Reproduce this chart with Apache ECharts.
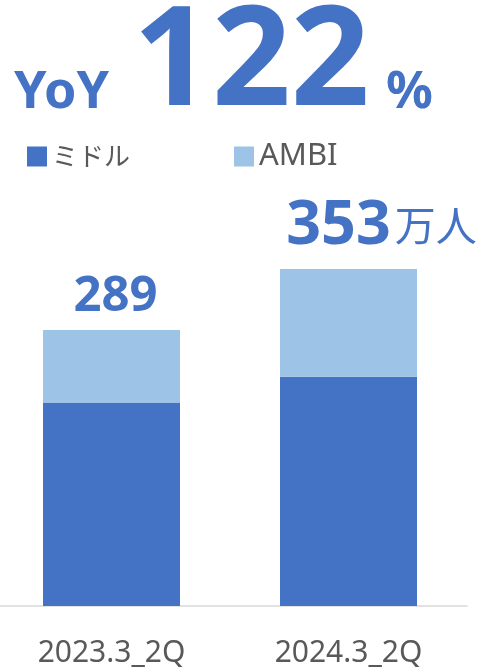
<!DOCTYPE html>
<html>
<head>
<meta charset="utf-8">
<script src="https://cdn.jsdelivr.net/npm/echarts@6/dist/echarts.min.js"></script>
<style>
  html, body { margin: 0; padding: 0; background: #fff; overflow: hidden; }
  /* 左端の軸線をはみ出させるため少し左へずらす */
  #main { position: relative; left: -7px; width: 489px; height: 669px; }
</style>
</head>
<body>
<div id="main"></div>
<script>
// データ
var categories = ['2023.3_2Q', '2024.3_2Q'];
var middleValues = [213, 240];
var ambiValues = [76, 113];
var totals = [289, 353];
var unitText = '万人';

var blue = '#4472C4';
var lightBlue = '#9DC3E6';
var gray = '#595959';
var latin = '"Noto Sans", "Noto Sans CJK JP", sans-serif';
var shift = 7;

// 前年比
var yoy = Math.round(totals[1] / totals[0] * 100);

// 合計ラベル
var ambiData = ambiValues.map(function (v, i) {
    var last = i === ambiValues.length - 1;
    return {
        value: v,
        label: {
            show: true,
            position: 'top',
            distance: last ? 12 : 8,
            offset: last ? [33, 0] : [4, 0],
            formatter: last ? '{n|' + totals[i] + '}{u|' + unitText + '}' : '{n|' + totals[i] + '}',
            rich: {
                n: { fontFamily: latin, fontWeight: 'bold', fontSize: last ? 61 : 49, color: blue },
                u: { fontFamily: '"Noto Sans CJK JP", sans-serif', fontSize: 41, color: blue, padding: [0, 0, 2, 4] }
            }
        }
    };
});

var myChart = echarts.init(document.getElementById('main'));

myChart.setOption({
    animation: false,
    backgroundColor: '#fff',
    grid: { left: 0, right: 15, top: 224, bottom: 63 },
    graphic: [
        { type: 'text', left: 14 + shift, top: 67, style: { text: 'YoY', font: 'bold 52px ' + latin, fill: blue } },
        { type: 'text', left: 133 + shift, top: -3, style: { text: String(yoy), font: 'bold 138px ' + latin, fill: blue } },
        { type: 'text', left: 386 + shift, top: 67, style: { text: '%', font: 'bold 52px ' + latin, fill: blue } }
    ],
    legend: {
        left: 27 + shift,
        top: 141,
        padding: 0,
        itemWidth: 20,
        itemHeight: 20,
        itemGap: 104,
        icon: 'rect',
        data: ['ミドル', 'AMBI'],
        formatter: function (name) {
            return name === 'AMBI' ? '{en|AMBI}' : '{jp|' + name + '}';
        },
        textStyle: {
            color: gray,
            rich: {
                en: { fontFamily: latin, fontSize: 31, color: gray },
                jp: { fontFamily: '"Noto Sans CJK JP", sans-serif', fontSize: 26, color: gray }
            }
        }
    },
    xAxis: {
        type: 'category',
        data: categories,
        axisLine: { lineStyle: { color: '#D9D9D9', width: 1.5 } },
        axisTick: { show: false },
        axisLabel: { color: gray, fontFamily: latin, fontSize: 30, margin: 32 }
    },
    yAxis: {
        type: 'value',
        min: 0,
        max: 400,
        show: false,
        splitLine: { show: false }
    },
    series: [
        {
            name: 'ミドル',
            type: 'bar',
            stack: 'total',
            barWidth: 137,
            itemStyle: { color: blue },
            data: middleValues
        },
        {
            name: 'AMBI',
            type: 'bar',
            stack: 'total',
            barWidth: 137,
            itemStyle: { color: lightBlue },
            data: ambiData
        }
    ]
});
</script>
</body>
</html>
